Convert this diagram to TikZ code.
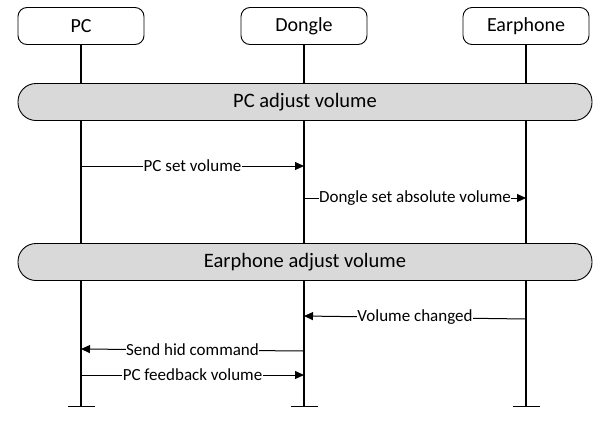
\documentclass[tikz,border=0pt]{standalone}
\usepackage{fontspec}
\setmainfont{Carlito}
\usetikzlibrary{arrows.meta,positioning,calc}
\definecolor{PhaseGray}{HTML}{D9D9D9}
\tikzset{
  actor/.style={draw, line width=0.9pt, rounded corners=9pt, minimum width=126pt,
    minimum height=37pt, fill=white, font=\fontsize{20}{24}\selectfont},
  phase/.style={draw, line width=0.9pt, rounded corners=18pt, minimum width=574pt,
    minimum height=37pt, fill=PhaseGray, font=\fontsize{20.5}{24}\selectfont},
  life/.style={line width=1.2pt},
  msg/.style={-{Triangle[length=9pt,width=8pt]}, line width=1pt},
  msglabel/.style={fill=white, inner sep=0.5pt, font=\fontsize{17}{20}\selectfont},
}
\begin{document}
\begin{tikzpicture}[x=1pt, y=-1pt]
  \useasboundingbox (0,0) rectangle (612,429);
  % actors and lifelines
  \node[actor] (pc) at (81,26) {PC};
  \node[actor] (dongle) at (304,26) {Dongle};
  \node[actor] (earphone) at (526,26) {Earphone};
  \foreach \a in {pc,dongle,earphone} {
    \coordinate (\a-end) at (\a |- 0,406.5);
    \draw[life] (\a) -- (\a-end);
    \draw[life] ($(\a-end)+(-13.5,0)$) -- ($(\a-end)+(13.5,0)$);
  }
  % phases
  \node[phase] (adjpc) at (305,102) {PC adjust volume};
  \node[phase] (adjear) at (305,262) {Earphone adjust volume};
  % message end points
  \coordinate (m1s) at (pc |- 0,166);
  \coordinate (m1e) at (dongle |- 0,166);
  \coordinate (m2s) at (dongle |- 0,198);
  \coordinate (m2e) at (earphone |- 0,198);
  \coordinate (m3s) at (earphone |- 0,319);
  \coordinate (m3e) at (dongle |- 0,316);
  \coordinate (m4s) at (dongle |- 0,351);
  \coordinate (m4e) at (pc |- 0,349);
  \coordinate (m5s) at (pc |- 0,375);
  \coordinate (m5e) at (dongle |- 0,375);
  % messages
  \draw[msg] (m1s) -- node[msglabel] {PC set volume} (m1e);
  \draw[msg] (m2s) -- node[msglabel] {Dongle set absolute volume} (m2e);
  \draw[msg] (m3s) -- node[msglabel] {Volume changed} (m3e);
  \draw[msg] (m4s) -- node[msglabel] {Send hid command} (m4e);
  \draw[msg] (m5s) -- node[msglabel] {PC feedback volume} (m5e);
\end{tikzpicture}
\end{document}
